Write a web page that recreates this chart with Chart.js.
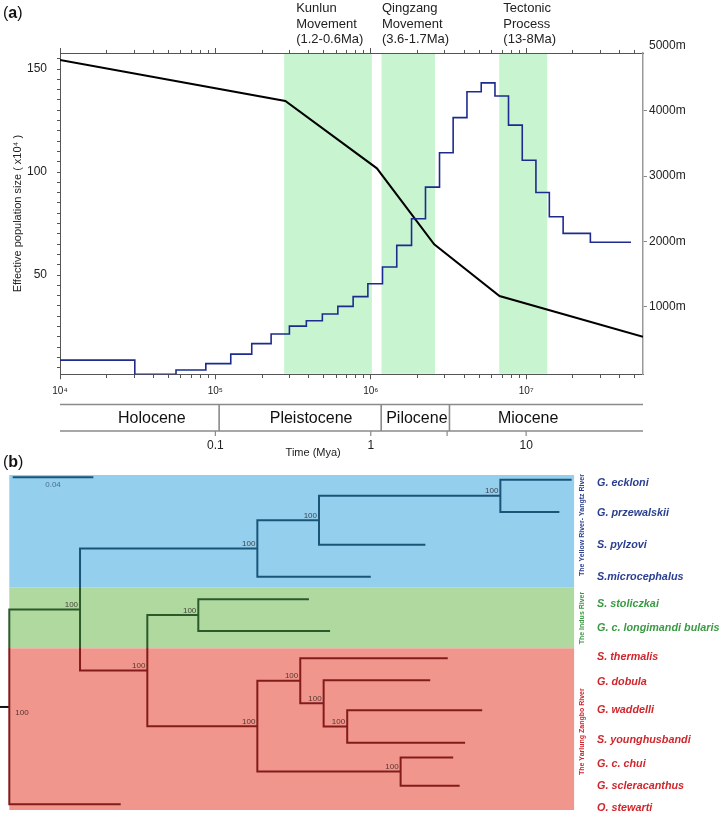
<!DOCTYPE html>
<html><head><meta charset="utf-8">
<script src="https://cdn.jsdelivr.net/npm/chart.js@4.4.1/dist/chart.umd.min.js"></script>
<style>
html,body{margin:0;padding:0;background:#fff;width:722px;height:814px;overflow:hidden;}
#wa{position:absolute;left:0;top:0;width:722px;height:460px;}
#wb{position:absolute;left:0;top:452px;width:722px;height:362px;}
</style></head><body>
<div id="wa"><canvas id="ca"></canvas></div>
<div id="wb"><canvas id="cb"></canvas></div>
<script>
const FONT = "'Liberation Sans', Arial, Helvetica, sans-serif";

// ---------- Panel (a) data ----------
const neTimes = [1e4, 3.03e4, 5.58e4, 8.68e4, 1.256e5, 1.714e5, 2.284e5, 2.995e5, 3.85e5, 4.88e5, 6.14e5, 7.7e5, 9.58e5, 1.19e6, 1.47e6, 1.83e6, 2.25e6, 2.77e6, 3.39e6, 4.16e6, 5.14e6, 6.3e6, 7.7e6, 9.44e6, 1.156e7, 1.41e7, 1.73e7, 2.59e7, 4.73e7];
const neValues = [8.7, 1.8, 3.9, 7.0, 11.6, 16.7, 21.4, 25.2, 27.8, 31.1, 34.8, 39.5, 45.8, 53.9, 64.4, 77.3, 92.7, 109.4, 126.4, 139.0, 143.3, 136.9, 122.8, 105.7, 90.1, 78.3, 70.2, 65.9, 65.9];
const elevTimes = [1e4, 2.82e5, 1.095e6, 2.56e6, 6.74e6, 5.65e7];
const elevValues = [4778, 4150, 3119, 1955, 1164, 541];
const bandStart = [2.77e5, 1.172e6, 6.71e6];
const bandEnd = [1.016e6, 2.59e6, 1.368e7];
const bandNotes = [['Kunlun', 'Movement', '(1.2-0.6Ma)'], ['Qingzang', 'Movement', '(3.6-1.7Ma)'], ['Tectonic', 'Process', '(13-8Ma)']];
const noteTimes = [3.31e5, 1.18e6, 7.13e6];
const decadeTicks = [1e4, 1e5, 1e6, 1e7];
const decadeLabels = ['10⁴', '10⁵', '10⁶', '10⁷'];
const neTickLabels = [50, 100, 150];
const elevTicks = [1000, 2000, 3000, 4000, 5000];
const epochNames = ['Holocene', 'Pleistocene', 'Pilocene', 'Miocene'];
const epochBounds = [1.057e5, 1.167e6, 3.21e6];
const epochLabelAt = [3.9e4, 4.13e5, 1.98e6, 1.03e7];
const myaTickTimes = [1e5, 1e6, 3.1e6, 1e7];
const myaTickLabels = ['0.1', '1', '', '10'];
const X_MIN = 1e4, X_MAX = 5.65e7;
const NE_MIN = 1.8, NE_MAX = 157.8;
const EL_MIN = -35, EL_MAX = 4885;

// ---------- Panel (b) data ----------
const tipNames = ['G. eckloni', 'G. przewalskii', 'S. pylzovi', 'S.microcephalus', 'S. stoliczkai', 'G. c. longimandi bularis', 'S. thermalis', 'G. dobula', 'G. waddelli', 'S. younghusbandi', 'G. c. chui', 'G. scleracanthus', 'O. stewarti'];
const tipDist = [0.2791, 0.2730, 0.2065, 0.1794, 0.1487, 0.1592, 0.2176, 0.2089, 0.2347, 0.2262, 0.2203, 0.2235, 0.0553];
const tipRow = [0.18, 1.44, 2.71, 3.95, 4.82, 6.05, 7.11, 7.96, 9.13, 10.39, 10.96, 12.06, 12.78];
const tipLabelRow = [0.30, 1.49, 2.72, 3.95, 5.01, 5.95, 7.07, 8.03, 9.12, 10.28, 11.22, 12.06, 12.91];
const tipRegion = [0, 0, 0, 0, 1, 1, 2, 2, 2, 2, 2, 2, 2];
const nodeNames = ['E', 'D', 'B', 'F', 'K', 'J', 'H', 'I', 'G', 'C', 'A', 'root'];
const nodeDist = [0.2437, 0.1537, 0.1231, 0.0938, 0.1677, 0.1560, 0.1444, 0.1942, 0.1231, 0.0685, 0.0351, 0];
const nodeKids = [['t0', 't1'], ['E', 't2'], ['D', 't3'], ['t4', 't5'], ['t8', 't9'], ['t7', 'K'], ['t6', 'J'], ['t10', 't11'], ['H', 'I'], ['F', 'G'], ['B', 'C'], ['A', 't12']];
const nodeSupport = [100, 100, 100, 100, 100, 100, 100, 100, 100, 100, 100, 100];
const regionNames = ['The Yellow River- Yangtz River', 'The Indus River', 'The Yarlung Zangbo River'];
const regionTop = [0, 4.373, 6.725];
const regionBottom = [4.373, 6.725, 13.0];
const regionLabelRow = [1.94, 5.55, 9.96];
const treeRight = 0.2803;
const scaleBar = [0.0017, 0.0417];
const scaleBarLabel = '0.04';

const regionFill = ['#94cfee', '#b0d9a0', '#f1968c'];
const regionLine = ['#1c5478', '#2b5a2a', '#841b1b'];
const regionText = ['#2a3f90', '#3a9a44', '#d0262c'];

// ---------- helpers ----------
function logTicks() {
  const t = [];
  for (let d = 1e4; d <= 1e7; d *= 10) for (let m = 1; m <= 9; m++) { const v = m * d; if (v <= X_MAX) t.push({value: v, major: m === 1}); }
  return t;
}
function drawPanelLabel(ctx, letter, x, y) {
  ctx.textBaseline = 'middle'; ctx.textAlign = 'left'; ctx.fillStyle = '#111';
  let cx = x;
  ctx.font = `16px ${FONT}`; ctx.fillText('(', cx, y); cx += ctx.measureText('(').width;
  ctx.font = `bold 16px ${FONT}`; ctx.fillText(letter, cx, y); cx += ctx.measureText(letter).width;
  ctx.font = `16px ${FONT}`; ctx.fillText(')', cx, y);
}
function seg(ctx, x1, y1, x2, y2) { ctx.beginPath(); ctx.moveTo(x1, y1); ctx.lineTo(x2, y2); ctx.stroke(); }

// ---------- Panel (a) ----------
const panelA = {
  id: 'panelA',
  beforeDraw(chart) {
    const {ctx, chartArea: a, scales: {x}} = chart;
    ctx.save();
    ctx.fillStyle = '#c8f5d0';
    bandStart.forEach((s, i) => {
      const x1 = x.getPixelForValue(s), x2 = x.getPixelForValue(bandEnd[i]);
      ctx.fillRect(x1, a.top + 0.5, x2 - x1, a.bottom - a.top - 1);
    });
    ctx.restore();
  },
  afterDraw(chart) {
    const {ctx, chartArea: a, scales: {x}} = chart;
    ctx.save();
    ctx.fillStyle = '#222'; ctx.font = `13px ${FONT}`; ctx.textAlign = 'left'; ctx.textBaseline = 'middle';
    bandNotes.forEach((lines, i) => {
      const px = x.getPixelForValue(noteTimes[i]);
      lines.forEach((t, j) => ctx.fillText(t, px, 8.5 + j * 15.6));
    });
    drawPanelLabel(ctx, 'a', 3, 14);
    const t1 = a.bottom + 30.2, t2 = a.bottom + 56.7;
    ctx.strokeStyle = '#8a8a8a'; ctx.lineWidth = 1.6;
    seg(ctx, a.left, t1, a.right, t1);
    seg(ctx, a.left, t2, a.right, t2);
    epochBounds.forEach(b => { const px = x.getPixelForValue(b); seg(ctx, px, t1, px, t2); });
    ctx.fillStyle = '#111'; ctx.font = `16px ${FONT}`; ctx.textAlign = 'center';
    epochNames.forEach((n, i) => ctx.fillText(n, x.getPixelForValue(epochLabelAt[i]), (t1 + t2) / 2 + 1));
    ctx.lineWidth = 1.2;
    ctx.font = `12px ${FONT}`; ctx.fillStyle = '#222';
    myaTickTimes.forEach((t, i) => {
      const px = x.getPixelForValue(t);
      seg(ctx, px, t2, px, t2 + 5);
      if (myaTickLabels[i]) ctx.fillText(myaTickLabels[i], px, t2 + 15);
    });
    ctx.font = `11px ${FONT}`;
    ctx.fillText('Time (Mya)', x.getPixelForValue(4.26e5), t2 + 21.7);
    ctx.restore();
  }
};

const logGrid = (outerDash) => ({
  drawOnChartArea: false, drawTicks: true, tickLength: 5, tickColor: '#555', tickWidth: 1,
  tickBorderDash: c => (c.tick && c.tick.major) ? [] : outerDash
});

new Chart(document.getElementById('ca'), {
  type: 'line',
  data: {
    datasets: [
      {
        label: 'Ne', xAxisID: 'x', yAxisID: 'yNe',
        data: neTimes.map((t, i) => ({x: t, y: neValues[i]})),
        stepped: true, borderColor: '#1d2b8e', borderWidth: 1.6, pointRadius: 0, fill: false
      },
      {
        label: 'Elevation', xAxisID: 'x', yAxisID: 'yElev',
        data: elevTimes.map((t, i) => ({x: t, y: elevValues[i]})),
        borderColor: '#000', borderWidth: 2, pointRadius: 0, fill: false, tension: 0
      }
    ]
  },
  options: {
    responsive: true, maintainAspectRatio: false, animation: false,
    layout: {padding: 0},
    plugins: {legend: {display: false}, tooltip: {enabled: false}},
    events: [],
    scales: {
      x: {
        type: 'logarithmic', position: 'bottom', min: X_MIN, max: X_MAX,
        afterBuildTicks: s => { s.ticks = logTicks(); },
        afterFit: s => { s.height = 85.7; },
        ticks: {autoSkip: false, maxRotation: 0, minRotation: 0, padding: 6, color: '#222', font: {family: FONT, size: 10},
          callback: v => { const k = decadeTicks.indexOf(v); return k >= 0 ? decadeLabels[k] : ''; }},
        grid: logGrid([3, 10]),
        border: {display: true, color: '#555', width: 1}
      },
      x2: {
        type: 'logarithmic', position: 'top', min: X_MIN, max: X_MAX,
        afterBuildTicks: s => { s.ticks = logTicks(); },
        afterFit: s => { s.height = 53; },
        ticks: {display: false, autoSkip: false},
        grid: logGrid([0, 2, 3, 10]),
        border: {display: true, color: '#555', width: 1}
      },
      yNe: {
        type: 'linear', position: 'left', min: NE_MIN, max: NE_MAX,
        afterBuildTicks: s => { const t = []; for (let v = 5; v <= 155; v += 5) t.push({value: v}); s.ticks = t; },
        afterFit: s => { s.width = 60; },
        ticks: {autoSkip: false, padding: 10, color: '#222', font: {family: FONT, size: 12},
          callback: v => neTickLabels.includes(v) ? String(v) : ''},
        grid: {drawOnChartArea: false, tickLength: 3, tickColor: '#555'},
        border: {display: true, color: '#555', width: 1},
        title: {display: true, text: 'Effective population size ( x10⁴ )', color: '#222', font: {family: FONT, size: 11}, padding: {top: 11, bottom: 0}}
      },
      yElev: {
        type: 'linear', position: 'right', min: EL_MIN, max: EL_MAX,
        afterBuildTicks: s => { s.ticks = elevTicks.map(v => ({value: v})); },
        afterFit: s => { s.width = 79; },
        ticks: {autoSkip: false, padding: 2, color: '#222', font: {family: FONT, size: 12}, callback: v => v + 'm'},
        grid: {drawOnChartArea: false, tickLength: 4, tickColor: c => (c.tick && c.tick.value > EL_MAX) ? 'rgba(0,0,0,0)' : '#888'},
        border: {display: true, color: '#999', width: 1.5}
      }
    }
  },
  plugins: [panelA]
});

// ---------- Panel (b) ----------
const pos = {};
tipNames.forEach((n, i) => { pos['t' + i] = {x: tipDist[i], y: tipRow[i]}; });
nodeNames.forEach((n, i) => {
  const [a, b] = nodeKids[i];
  pos[n] = {x: nodeDist[i], y: (pos[a].y + pos[b].y) / 2};
});

function treeGrad(chart) {
  const {ctx, chartArea, scales} = chart;
  if (!chartArea || !scales.y) return regionLine[2];
  const H = chart.height;
  const g = ctx.createLinearGradient(0, 0, 0, H);
  const f1 = Math.min(1, Math.max(0, scales.y.getPixelForValue(regionBottom[0]) / H));
  const f2 = Math.min(1, Math.max(0, scales.y.getPixelForValue(regionBottom[1]) / H));
  g.addColorStop(0, regionLine[0]); g.addColorStop(f1, regionLine[0]);
  g.addColorStop(f1, regionLine[1]); g.addColorStop(f2, regionLine[1]);
  g.addColorStop(f2, regionLine[2]); g.addColorStop(1, regionLine[2]);
  return g;
}

const lineBase = {showLine: true, pointRadius: 0, borderWidth: 2, tension: 0, borderJoinStyle: 'miter', borderCapStyle: 'butt', fill: false, clip: false};
const treeSets = nodeNames.map((n, i) => {
  const a = pos[nodeKids[i][0]], b = pos[nodeKids[i][1]], p = pos[n];
  return Object.assign({}, lineBase, {
    label: n,
    data: [{x: a.x, y: a.y}, {x: p.x, y: a.y}, {x: p.x, y: b.y}, {x: b.x, y: b.y}],
    borderColor: c => treeGrad(c.chart)
  });
});
const rootP = pos['root'];
treeSets.push(Object.assign({}, lineBase, {label: 'stub', data: [{x: -0.0046, y: rootP.y}, {x: rootP.x, y: rootP.y}], borderColor: '#111'}));
treeSets.push(Object.assign({}, lineBase, {label: 'scale', data: [{x: scaleBar[0], y: 0.09}, {x: scaleBar[1], y: 0.09}], borderColor: regionLine[0]}));

const panelB = {
  id: 'panelB',
  beforeDraw(chart) {
    const {ctx, scales: {x, y}} = chart;
    ctx.save();
    regionNames.forEach((n, i) => {
      const x1 = x.getPixelForValue(0), x2 = x.getPixelForValue(treeRight);
      const y1 = y.getPixelForValue(regionTop[i]), y2 = y.getPixelForValue(regionBottom[i]);
      ctx.fillStyle = regionFill[i];
      ctx.fillRect(x1, y1, x2 - x1, y2 - y1);
    });
    ctx.restore();
  },
  afterDatasetsDraw(chart) {
    const {ctx, scales: {x, y}} = chart;
    ctx.save();
    // support values
    ctx.font = `8px ${FONT}`; ctx.fillStyle = 'rgba(40,25,25,0.8)';
    nodeNames.forEach((n, i) => {
      const p = pos[n]; const px = x.getPixelForValue(p.x), py = y.getPixelForValue(p.y);
      if (n === 'root') { ctx.textAlign = 'left'; ctx.textBaseline = 'top'; ctx.fillText(String(nodeSupport[i]), px + 6, py + 2); }
      else { ctx.textAlign = 'right'; ctx.textBaseline = 'alphabetic'; ctx.fillText(String(nodeSupport[i]), px - 2, py - 2.5); }
    });
    // scale bar label
    ctx.font = `8px ${FONT}`; ctx.fillStyle = '#4a6f8c'; ctx.textAlign = 'center'; ctx.textBaseline = 'middle';
    ctx.fillText(scaleBarLabel, x.getPixelForValue((scaleBar[0] + scaleBar[1]) / 2), y.getPixelForValue(0.39));
    // tip labels
    ctx.font = `italic bold 10.8px ${FONT}`; ctx.textAlign = 'left'; ctx.textBaseline = 'middle';
    tipNames.forEach((n, i) => {
      ctx.fillStyle = regionText[tipRegion[i]];
      ctx.fillText(n, x.getPixelForValue(0.2917), y.getPixelForValue(tipLabelRow[i]));
    });
    // region labels
    ctx.font = `bold 7px ${FONT}`;
    regionNames.forEach((n, i) => {
      const cx = x.getPixelForValue(0.2841), cy = y.getPixelForValue(regionLabelRow[i]);
      ctx.save(); ctx.translate(cx, cy); ctx.rotate(-Math.PI / 2);
      ctx.textAlign = 'center'; ctx.textBaseline = 'middle'; ctx.fillStyle = regionText[i];
      ctx.fillText(n, 0, 0); ctx.restore();
    });
    drawPanelLabel(ctx, 'b', 3, 11);
    ctx.restore();
  }
};

new Chart(document.getElementById('cb'), {
  type: 'scatter',
  data: {datasets: treeSets},
  options: {
    responsive: true, maintainAspectRatio: false, animation: false,
    layout: {padding: 0},
    plugins: {legend: {display: false}, tooltip: {enabled: false}},
    events: [],
    scales: {
      x: {type: 'linear', min: -0.004615, max: 0.3537, display: false},
      y: {type: 'linear', min: -0.8925, max: 13.155, reverse: true, display: false}
    }
  },
  plugins: [panelB]
});
</script>
</body></html>
